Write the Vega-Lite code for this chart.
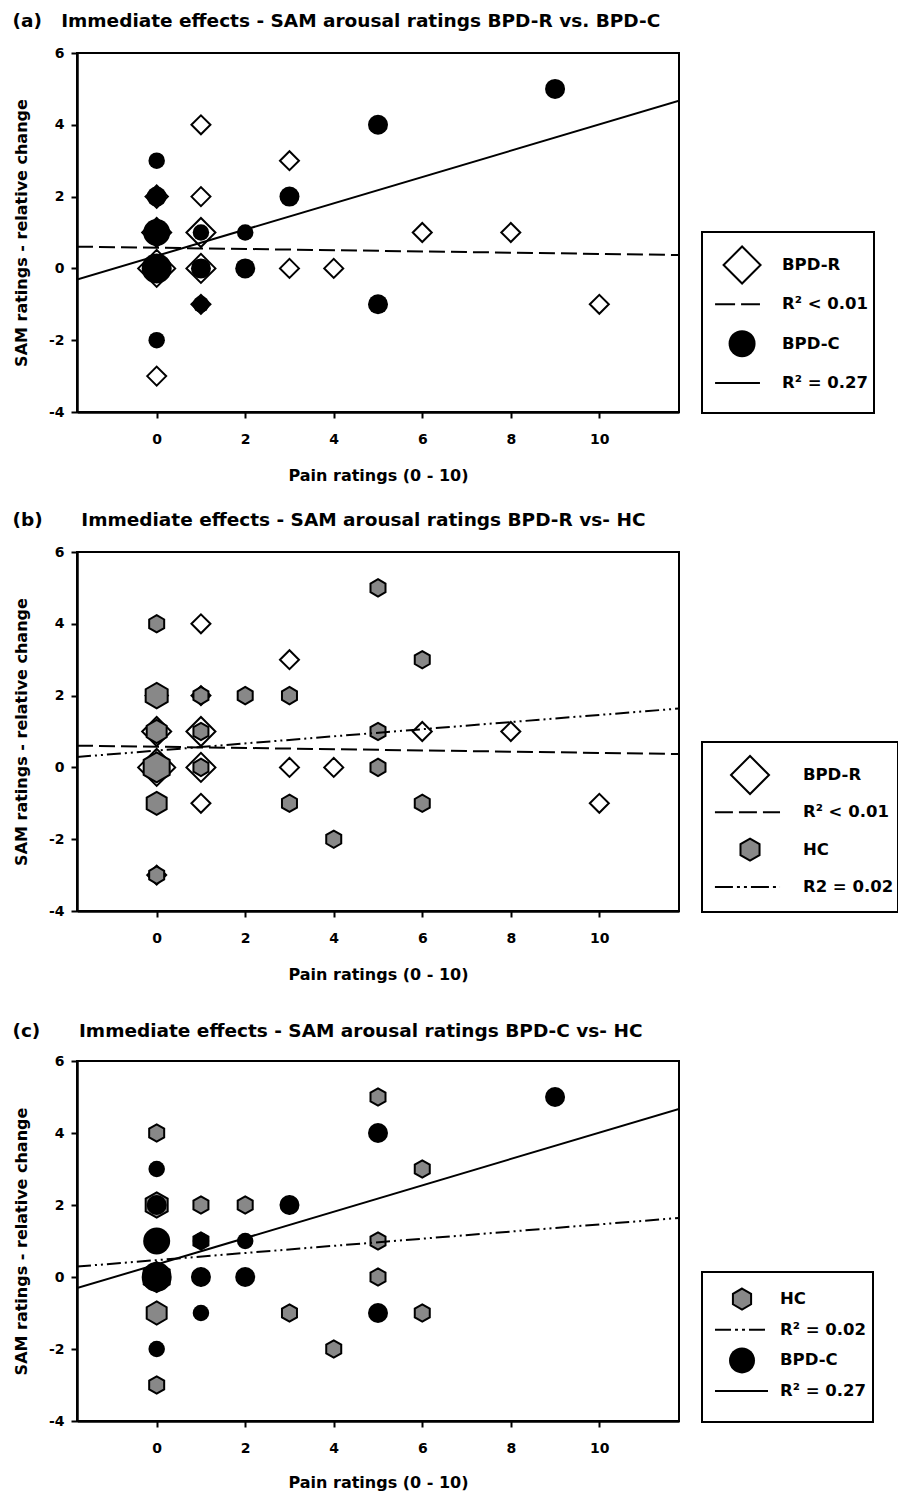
{
  "$schema": "https://vega.github.io/schema/vega-lite/v6.json",
  "padding": {"left": 12, "top": 11, "right": 0, "bottom": 0},
  "config": {
    "view": {"stroke": "black", "strokeWidth": 2},
    "font": "DejaVu Sans",
    "axis": {"grid": false, "domainColor": "black", "domainWidth": 2.5, "tickColor": "black", "tickWidth": 2, "tickSize": 6,
             "labelFont": "DejaVu Sans", "labelFontWeight": "bold", "labelFontSize": 14, "labelColor": "black",
             "labelExpr": "datum.value < 0 ? '-' + abs(datum.value) : '' + datum.value",
             "titleFont": "DejaVu Sans", "titleFontWeight": "bold", "titleFontSize": 16, "titleColor": "black"},
    "title": {"font": "DejaVu Sans", "fontWeight": "bold", "fontSize": 18.5, "color": "black", "anchor": "start", "frame": "bounds"}
  },
  "datasets": {
    "bpdr": [
      {"pain": 0, "sam": 0, "n": 5}, {"pain": 0, "sam": 1, "n": 3}, {"pain": 0, "sam": 2, "n": 2}, {"pain": 0, "sam": -3, "n": 1},
      {"pain": 1, "sam": 4, "n": 1}, {"pain": 1, "sam": 2, "n": 1}, {"pain": 1, "sam": 1, "n": 3}, {"pain": 1, "sam": 0, "n": 3},
      {"pain": 1, "sam": -1, "n": 1}, {"pain": 3, "sam": 3, "n": 1}, {"pain": 3, "sam": 0, "n": 1}, {"pain": 4, "sam": 0, "n": 1},
      {"pain": 6, "sam": 1, "n": 1}, {"pain": 8, "sam": 1, "n": 1}, {"pain": 10, "sam": -1, "n": 1}
    ],
    "bpdc": [
      {"pain": 0, "sam": 3, "n": 1}, {"pain": 0, "sam": 2, "n": 2}, {"pain": 0, "sam": 1, "n": 4}, {"pain": 0, "sam": 0, "n": 5},
      {"pain": 0, "sam": -2, "n": 1}, {"pain": 1, "sam": 1, "n": 1}, {"pain": 1, "sam": 0, "n": 2}, {"pain": 1, "sam": -1, "n": 1},
      {"pain": 2, "sam": 1, "n": 1}, {"pain": 2, "sam": 0, "n": 2}, {"pain": 3, "sam": 2, "n": 2}, {"pain": 5, "sam": 4, "n": 2},
      {"pain": 5, "sam": -1, "n": 2}, {"pain": 9, "sam": 5, "n": 2}
    ],
    "hc": [
      {"pain": 0, "sam": 4, "n": 1}, {"pain": 0, "sam": 2, "n": 3}, {"pain": 0, "sam": 1, "n": 2}, {"pain": 0, "sam": 0, "n": 4},
      {"pain": 0, "sam": -1, "n": 2}, {"pain": 0, "sam": -3, "n": 1}, {"pain": 1, "sam": 2, "n": 1}, {"pain": 1, "sam": 1, "n": 1},
      {"pain": 1, "sam": 0, "n": 1}, {"pain": 2, "sam": 2, "n": 1}, {"pain": 3, "sam": 2, "n": 1}, {"pain": 3, "sam": -1, "n": 1},
      {"pain": 4, "sam": -2, "n": 1}, {"pain": 5, "sam": 5, "n": 1}, {"pain": 5, "sam": 1, "n": 1}, {"pain": 5, "sam": 0, "n": 1},
      {"pain": 6, "sam": 3, "n": 1}, {"pain": 6, "sam": -1, "n": 1}
    ],
    "lines": [
      {"grp": "BPD-R", "pain": -1.8, "sam": 0.606}, {"grp": "BPD-R", "pain": 11.8, "sam": 0.373},
      {"grp": "BPD-C", "pain": -1.8, "sam": -0.31}, {"grp": "BPD-C", "pain": 11.8, "sam": 4.67},
      {"grp": "HC", "pain": -1.8, "sam": 0.29}, {"grp": "HC", "pain": 11.8, "sam": 1.64}
    ],
    "legA": [{"row": 1, "label": "BPD-R"}, {"row": 2, "label": "R² < 0.01"}, {"row": 3, "label": "BPD-C"}, {"row": 4, "label": "R² = 0.27"}],
    "legB": [{"row": 1, "label": "BPD-R"}, {"row": 2, "label": "R² < 0.01"}, {"row": 3, "label": "HC"}, {"row": 4, "label": "R2 = 0.02"}],
    "legC": [{"row": 1, "label": "HC"}, {"row": 2, "label": "R² = 0.02"}, {"row": 3, "label": "BPD-C"}, {"row": 4, "label": "R² = 0.27"}]
  },
  "spacing": 27,
  "vconcat": [
    {
      "title": {"text": "(a)\u00a0\u00a0\u00a0Immediate effects - SAM arousal ratings BPD-R vs. BPD-C", "offset": 15},
      "spacing": 21,
      "hconcat": [
        {
          "width": 602, "height": 359,
          "encoding": {
            "x": {"field": "pain", "type": "quantitative", "scale": {"domain": [-1.8, 11.8], "nice": false, "zero": false},
                  "axis": {"values": [0, 2, 4, 6, 8, 10], "title": "Pain ratings (0 - 10)", "labelPadding": 14, "titlePadding": 21}},
            "y": {"field": "sam", "type": "quantitative", "scale": {"domain": [-4, 6], "nice": false, "zero": false},
                  "axis": {"values": [-4, -2, 0, 2, 4, 6], "title": "SAM ratings - relative change", "labelPadding": 7, "titlePadding": 19}}
          },
          "layer": [
            {"data": {"name": "bpdr"}, "mark": {"type": "point", "shape": "diamond", "filled": true, "fill": "white", "stroke": "black", "strokeWidth": 2, "opacity": 1},
             "encoding": {"size": {"field": "n", "type": "quantitative", "scale": {"domain": [1, 2, 3, 5], "range": [361, 500, 841, 1369]}, "legend": null}}},
            {"data": {"name": "bpdc"}, "mark": {"type": "point", "shape": "circle", "filled": true, "fill": "black", "strokeWidth": 0, "opacity": 1},
             "encoding": {"size": {"field": "n", "type": "quantitative", "scale": {"domain": [1, 2, 4, 5], "range": [272, 400, 729, 900]}, "legend": null}}},
            {"data": {"name": "lines"}, "transform": [{"filter": "datum.grp === 'BPD-R'"}],
             "mark": {"type": "line", "color": "black", "strokeWidth": 2, "strokeDash": [16, 6], "clip": true},
             "encoding": {"detail": {"field": "grp"}}},
            {"data": {"name": "lines"}, "transform": [{"filter": "datum.grp === 'BPD-C'"}],
             "mark": {"type": "line", "color": "black", "strokeWidth": 2, "clip": true},
             "encoding": {"detail": {"field": "grp"}}}
          ],
          "resolve": {"scale": {"size": "independent"}}
        },
        {
          "spacing": 0,
          "vconcat": [
            {"width": 172, "height": 178, "view": {"stroke": null}, "data": {"values": [{}]}, "mark": {"type": "point", "opacity": 0}, "encoding": {}},
            {
              "width": 172, "height": 181,
              "data": {"name": "legA"},
              "encoding": {
                "y": {"field": "row", "type": "quantitative", "scale": {"domain": [0.16, 4.765], "reverse": true, "nice": false, "zero": false}, "axis": null}
              },
              "layer": [
                {"mark": {"type": "text", "align": "left", "baseline": "middle", "font": "DejaVu Sans", "fontWeight": "bold", "fontSize": 16.5, "color": "black"},
                 "encoding": {"x": {"datum": 46.5, "type": "quantitative", "scale": {"domain": [0, 100], "nice": false, "zero": false}, "axis": null}, "text": {"field": "label"}}},
                {"transform": [{"filter": "datum.row === 1"}],
                 "mark": {"type": "point", "shape": "diamond", "filled": true, "fill": "white", "stroke": "black", "strokeWidth": 2, "size": 1369, "opacity": 1},
                 "encoding": {"x": {"datum": 23.3, "type": "quantitative"}}},
                {"transform": [{"filter": "datum.row === 2"}],
                 "mark": {"type": "rule", "color": "black", "strokeWidth": 2, "strokeDash": [20, 6]},
                 "encoding": {"x": {"datum": 7.6, "type": "quantitative"}, "x2": {"datum": 33.7}}},
                {"transform": [{"filter": "datum.row === 3"}],
                 "mark": {"type": "point", "shape": "circle", "filled": true, "fill": "black", "strokeWidth": 0, "size": 729, "opacity": 1},
                 "encoding": {"x": {"datum": 23.3, "type": "quantitative"}}},
                {"transform": [{"filter": "datum.row === 4"}],
                 "mark": {"type": "rule", "color": "black", "strokeWidth": 2},
                 "encoding": {"x": {"datum": 7.6, "type": "quantitative"}, "x2": {"datum": 33.7}}}
              ]
            }
          ]
        }
      ]
    },
    {
      "spacing": 39,
      "vconcat": [
        {
          "title": {"text": "(b)\u00a0\u00a0\u00a0\u00a0\u00a0\u00a0Immediate effects - SAM arousal ratings BPD-R vs- HC", "offset": 14.5},
          "spacing": 21,
          "hconcat": [
            {
              "width": 602, "height": 359,
              "encoding": {
                "x": {"field": "pain", "type": "quantitative", "scale": {"domain": [-1.8, 11.8], "nice": false, "zero": false},
                      "axis": {"values": [0, 2, 4, 6, 8, 10], "title": "Pain ratings (0 - 10)", "labelPadding": 14, "titlePadding": 21}},
                "y": {"field": "sam", "type": "quantitative", "scale": {"domain": [-4, 6], "nice": false, "zero": false},
                      "axis": {"values": [-4, -2, 0, 2, 4, 6], "title": "SAM ratings - relative change", "labelPadding": 7, "titlePadding": 19}}
              },
              "layer": [
                {"data": {"name": "bpdr"}, "mark": {"type": "point", "shape": "diamond", "filled": true, "fill": "white", "stroke": "black", "strokeWidth": 2, "opacity": 1},
                 "encoding": {"size": {"field": "n", "type": "quantitative", "scale": {"domain": [1, 2, 3, 5], "range": [361, 500, 841, 1369]}, "legend": null}}},
                {"data": {"name": "hc"}, "mark": {"type": "point", "shape": "M0,-1L0.866,-0.5L0.866,0.5L0,1L-0.866,0.5L-0.866,-0.5Z", "filled": true, "fill": "#888888", "stroke": "black", "strokeWidth": 2, "opacity": 1},
                 "encoding": {"size": {"field": "n", "type": "quantitative", "scale": {"domain": [1, 2, 3, 4], "range": [300, 530, 645, 900]}, "legend": null}}},
                {"data": {"name": "lines"}, "transform": [{"filter": "datum.grp === 'BPD-R'"}],
                 "mark": {"type": "line", "color": "black", "strokeWidth": 2, "strokeDash": [16, 6], "clip": true},
                 "encoding": {"detail": {"field": "grp"}}},
                {"data": {"name": "lines"}, "transform": [{"filter": "datum.grp === 'HC'"}],
                 "mark": {"type": "line", "color": "black", "strokeWidth": 2, "strokeDash": [14, 4, 2, 4, 2, 4], "clip": true},
                 "encoding": {"detail": {"field": "grp"}}}
              ],
              "resolve": {"scale": {"size": "independent"}}
            },
            {
              "spacing": 0,
              "vconcat": [
                {"width": 196, "height": 189, "view": {"stroke": null}, "data": {"values": [{}]}, "mark": {"type": "point", "opacity": 0}, "encoding": {}},
                {
                  "width": 196, "height": 170,
                  "data": {"name": "legB"},
                  "encoding": {
                    "y": {"field": "row", "type": "quantitative", "scale": {"domain": [0.115, 4.673], "reverse": true, "nice": false, "zero": false}, "axis": null}
                  },
                  "layer": [
                    {"mark": {"type": "text", "align": "left", "baseline": "middle", "font": "DejaVu Sans", "fontWeight": "bold", "fontSize": 16.5, "color": "black"},
                     "encoding": {"x": {"datum": 51.5, "type": "quantitative", "scale": {"domain": [0, 100], "nice": false, "zero": false}, "axis": null}, "text": {"field": "label"}}},
                    {"transform": [{"filter": "datum.row === 1"}],
                     "mark": {"type": "point", "shape": "diamond", "filled": true, "fill": "white", "stroke": "black", "strokeWidth": 2, "size": 1444, "opacity": 1},
                     "encoding": {"x": {"datum": 24.5, "type": "quantitative"}}},
                    {"transform": [{"filter": "datum.row === 2"}],
                     "mark": {"type": "rule", "color": "black", "strokeWidth": 2, "strokeDash": [18, 6]},
                     "encoding": {"x": {"datum": 6.6, "type": "quantitative"}, "x2": {"datum": 39.8}}},
                    {"transform": [{"filter": "datum.row === 3"}],
                     "mark": {"type": "point", "shape": "M0,-1L0.866,-0.5L0.866,0.5L0,1L-0.866,0.5L-0.866,-0.5Z", "filled": true, "fill": "#888888", "stroke": "black", "strokeWidth": 2, "size": 484, "opacity": 1},
                     "encoding": {"x": {"datum": 24.5, "type": "quantitative"}}},
                    {"transform": [{"filter": "datum.row === 4"}],
                     "mark": {"type": "rule", "color": "black", "strokeWidth": 2, "strokeDash": [18, 4, 3, 4, 3, 4]},
                     "encoding": {"x": {"datum": 6.6, "type": "quantitative"}, "x2": {"datum": 39.8}}}
                  ]
                }
              ]
            }
          ]
        },
        {
          "title": {"text": "(c)\u00a0\u00a0\u00a0\u00a0\u00a0\u00a0Immediate effects - SAM arousal ratings BPD-C vs- HC", "offset": 12.5},
          "spacing": 21,
          "hconcat": [
            {
              "width": 602, "height": 360,
              "encoding": {
                "x": {"field": "pain", "type": "quantitative", "scale": {"domain": [-1.8, 11.8], "nice": false, "zero": false},
                      "axis": {"values": [0, 2, 4, 6, 8, 10], "title": "Pain ratings (0 - 10)", "labelPadding": 14, "titlePadding": 19}},
                "y": {"field": "sam", "type": "quantitative", "scale": {"domain": [-4, 6], "nice": false, "zero": false},
                      "axis": {"values": [-4, -2, 0, 2, 4, 6], "title": "SAM ratings - relative change", "labelPadding": 7, "titlePadding": 19}}
              },
              "layer": [
                {"data": {"name": "hc"}, "mark": {"type": "point", "shape": "M0,-1L0.866,-0.5L0.866,0.5L0,1L-0.866,0.5L-0.866,-0.5Z", "filled": true, "fill": "#888888", "stroke": "black", "strokeWidth": 2, "opacity": 1},
                 "encoding": {"size": {"field": "n", "type": "quantitative", "scale": {"domain": [1, 2, 3, 4], "range": [300, 530, 645, 900]}, "legend": null}}},
                {"data": {"name": "bpdc"}, "mark": {"type": "point", "shape": "circle", "filled": true, "fill": "black", "strokeWidth": 0, "opacity": 1},
                 "encoding": {"size": {"field": "n", "type": "quantitative", "scale": {"domain": [1, 2, 4, 5], "range": [272, 400, 729, 900]}, "legend": null}}},
                {"data": {"name": "lines"}, "transform": [{"filter": "datum.grp === 'HC'"}],
                 "mark": {"type": "line", "color": "black", "strokeWidth": 2, "strokeDash": [14, 4, 2, 4, 2, 4], "clip": true},
                 "encoding": {"detail": {"field": "grp"}}},
                {"data": {"name": "lines"}, "transform": [{"filter": "datum.grp === 'BPD-C'"}],
                 "mark": {"type": "line", "color": "black", "strokeWidth": 2, "clip": true},
                 "encoding": {"detail": {"field": "grp"}}}
              ],
              "resolve": {"scale": {"size": "independent"}}
            },
            {
              "spacing": 0,
              "vconcat": [
                {"width": 171, "height": 210, "view": {"stroke": null}, "data": {"values": [{}]}, "mark": {"type": "point", "opacity": 0}, "encoding": {}},
                {
                  "width": 171, "height": 150,
                  "data": {"name": "legC"},
                  "encoding": {
                    "y": {"field": "row", "type": "quantitative", "scale": {"domain": [0.12, 5.006], "reverse": true, "nice": false, "zero": false}, "axis": null}
                  },
                  "layer": [
                    {"mark": {"type": "text", "align": "left", "baseline": "middle", "font": "DejaVu Sans", "fontWeight": "bold", "fontSize": 16.5, "color": "black"},
                     "encoding": {"x": {"datum": 45.6, "type": "quantitative", "scale": {"domain": [0, 100], "nice": false, "zero": false}, "axis": null}, "text": {"field": "label"}}},
                    {"transform": [{"filter": "datum.row === 1"}],
                     "mark": {"type": "point", "shape": "M0,-1L0.866,-0.5L0.866,0.5L0,1L-0.866,0.5L-0.866,-0.5Z", "filled": true, "fill": "#888888", "stroke": "black", "strokeWidth": 2, "size": 441, "opacity": 1},
                     "encoding": {"x": {"datum": 23.4, "type": "quantitative"}}},
                    {"transform": [{"filter": "datum.row === 2"}],
                     "mark": {"type": "rule", "color": "black", "strokeWidth": 2, "strokeDash": [16, 4, 3, 4, 3, 4]},
                     "encoding": {"x": {"datum": 7.6, "type": "quantitative"}, "x2": {"datum": 38.6}}},
                    {"transform": [{"filter": "datum.row === 3"}],
                     "mark": {"type": "point", "shape": "circle", "filled": true, "fill": "black", "strokeWidth": 0, "size": 676, "opacity": 1},
                     "encoding": {"x": {"datum": 23.4, "type": "quantitative"}}},
                    {"transform": [{"filter": "datum.row === 4"}],
                     "mark": {"type": "rule", "color": "black", "strokeWidth": 2},
                     "encoding": {"x": {"datum": 7.6, "type": "quantitative"}, "x2": {"datum": 38.6}}}
                  ]
                }
              ]
            }
          ]
        }
      ]
    }
  ]
}
